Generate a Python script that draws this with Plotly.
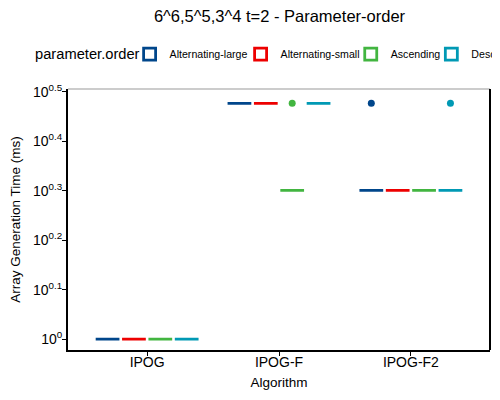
import plotly.graph_objects as go

# run times (ms) per algorithm, one list per parameter order
algorithms = ["IPOG", "IPOG-F", "IPOG-F2"]
orders = ["Alternating-large", "Alternating-small", "Ascending", "Descending"]
colors = ["#00468B", "#ED0000", "#42B540", "#0099B4"]

times = {
    "Alternating-large": {"IPOG": [1, 1, 1, 1, 1, 1, 1, 1, 1, 1],
                          "IPOG-F": [3, 3, 3, 3, 3, 3, 3, 3, 3, 3],
                          "IPOG-F2": [2, 2, 2, 2, 2, 2, 2, 2, 2, 3]},
    "Alternating-small": {"IPOG": [1, 1, 1, 1, 1, 1, 1, 1, 1, 1],
                          "IPOG-F": [3, 3, 3, 3, 3, 3, 3, 3, 3, 3],
                          "IPOG-F2": [2, 2, 2, 2, 2, 2, 2, 2, 2, 2]},
    "Ascending": {"IPOG": [1, 1, 1, 1, 1, 1, 1, 1, 1, 1],
                  "IPOG-F": [2, 2, 2, 2, 2, 2, 2, 2, 2, 3],
                  "IPOG-F2": [2, 2, 2, 2, 2, 2, 2, 2, 2, 2]},
    "Descending": {"IPOG": [1, 1, 1, 1, 1, 1, 1, 1, 1, 1],
                   "IPOG-F": [3, 3, 3, 3, 3, 3, 3, 3, 3, 3],
                   "IPOG-F2": [2, 2, 2, 2, 2, 2, 2, 2, 2, 3]},
}

tick_exps = [0, 0.1, 0.2, 0.3, 0.4, 0.5]

# one small legend per order so the keys sit where ggplot put them
legend_x = [0.146, 0.409, 0.670, 0.861]
legend_ids = ["legend", "legend2", "legend3", "legend4"]

fig = go.Figure()
for name, col, lid in zip(orders, colors, legend_ids):
    xs, ys = [], []
    for a in algorithms:
        xs += [a] * len(times[name][a])
        ys += times[name][a]
    fig.add_trace(go.Box(x=xs, y=ys, name=name, offsetgroup=name, legend=lid,
                         showlegend=True,
                         line=dict(color=col, width=2.8),
                         fillcolor="rgba(255,255,255,0)",
                         marker=dict(color=col, size=7),
                         boxpoints="outliers", whiskerwidth=0.5))

legends = {}
for lid, lx in zip(legend_ids, legend_x):
    legends[lid] = dict(orientation="h", x=lx, xanchor="left", y=1.134, yanchor="middle",
                        font=dict(size=10.6), itemwidth=30, bgcolor="rgba(0,0,0,0)")

fig.update_layout(
    width=500, height=400, showlegend=True,
    boxmode="group", boxgroupgap=0.1, boxgap=0.2,
    plot_bgcolor="white", paper_bgcolor="white",
    font=dict(family="Liberation Sans", size=13, color="black"),
    margin=dict(l=60, r=18, t=81, b=58, autoexpand=False),
    title=dict(text="6^6,5^5,3^4 t=2 - Parameter-order", x=0.543, xanchor="center",
               y=0.98, yanchor="middle", font=dict(size=16.5)),
    xaxis=dict(title=dict(text="Algorithm", standoff=9, font=dict(size=13.5)),
               range=[-0.6, 2.6], automargin=False,
               showline=True, linecolor="black", linewidth=2,
               ticks="outside", ticklen=4, tickcolor="black", ticklabelstandoff=-6,
               tickfont=dict(size=14), showgrid=False, zeroline=False),
    yaxis=dict(title=dict(text="Array Generation Time (ms)", standoff=10, font=dict(size=13.5)),
               type="log", range=[-0.022, 0.506], automargin=False,
               tickvals=[10 ** e for e in tick_exps],
               ticktext=["10<sup>%g</sup>" % e for e in tick_exps],
               showline=True, linecolor="black", linewidth=2,
               ticks="outside", ticklen=4, tickcolor="black", ticklabelstandoff=-3,
               tickfont=dict(size=14), showgrid=False, zeroline=False),
    **legends,
)
fig.add_annotation(text="parameter.order", xref="paper", yref="paper",
                   x=-0.083, xanchor="left", y=1.134, yanchor="middle",
                   showarrow=False, font=dict(size=14.7))
fig.add_shape(type="line", xref="paper", yref="paper", x0=0, x1=1, y0=1, y1=1,
              line=dict(color="#999999", width=1))
fig.add_shape(type="line", xref="paper", yref="paper", x0=1, x1=1, y0=0, y1=1,
              line=dict(color="black", width=2))

fig.write_html("out.html")
